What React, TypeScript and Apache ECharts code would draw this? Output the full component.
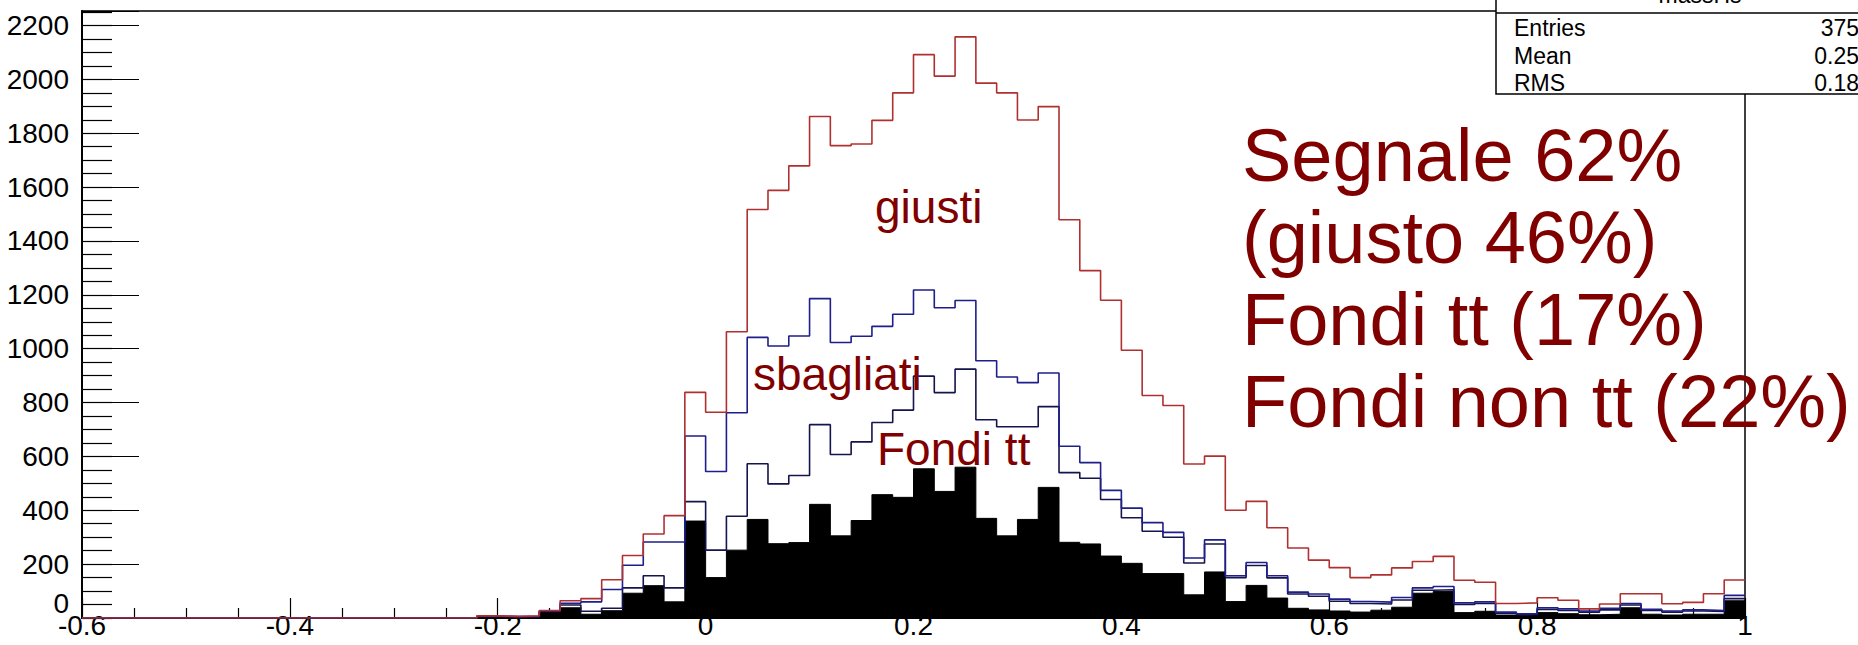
import React, { useEffect, useRef } from "react";
import * as echarts from "echarts";

// Histogram binning: 80 bins of 0.02 between -0.6 and 1.0; bins below -0.22 are empty.
const X_MIN = -0.6;
const X_MAX = 1.0;
const BIN_WIDTH = 0.02;
const FIRST_FILLED_BIN = -0.22;

// Per-bin counts of each component (from -0.22 up to 0.98), stacked bottom to top.
const fondiNonTt = [5, 3, 4, 22, 38, 14, 27, 92, 120, 60, 360, 150, 252, 366, 276, 280, 422, 305, 362, 458, 448, 554, 470, 560, 370, 305, 366, 485, 281, 275, 230, 203, 165, 165, 86, 171, 61, 121, 74, 36, 30, 26, 22, 29, 40, 92, 98, 20, 25, 11, 9, 20, 16, 12, 14, 38, 14, 11, 14, 14, 64];
const fondiTt = [1, 1, 1, 2, 10, 11, 9, 20, 37, 52, 72, 102, 126, 207, 222, 249, 296, 302, 292, 268, 324, 344, 367, 364, 366, 405, 344, 300, 259, 244, 210, 169, 157, 135, 118, 104, 89, 74, 75, 53, 51, 36, 32, 23, 27, 11, 7, 30, 29, 7, 4, 12, 12, 10, 16, 10, 14, 11, 12, 10, 8];
const sbagliati = [1, 1, 1, 2, 7, 35, 70, 84, 125, 170, 244, 292, 384, 469, 512, 518, 468, 416, 392, 357, 356, 320, 315, 255, 219, 185, 164, 125, 98, 58, 34, 36, 32, 18, 19, 15, 7, 11, 8, 7, 8, 8, 7, 7, 9, 9, 12, 6, 6, 4, 3, 6, 6, 4, 6, 6, 4, 4, 4, 4, 12];
const giusti = [1, 1, 2, 2, 9, 12, 36, 36, 30, 98, 162, 220, 301, 475, 578, 632, 676, 731, 714, 765, 822, 874, 860, 979, 1031, 1055, 975, 989, 841, 713, 706, 586, 472, 471, 349, 311, 243, 227, 178, 164, 126, 117, 89, 101, 110, 98, 112, 84, 73, 32, 40, 37, 32, 8, 16, 36, 58, 27, 28, 62, 57];

const Y_MAX = 2254;
const Y_MAJOR = 200;
const Y_MINOR = 50;
const X_MAJOR = 0.2;

const summaryLines = ["Segnale 62%", "(giusto 46%)", "Fondi tt (17%)", "Fondi non tt (22%)"];
const statsTitle = "massHs";
const statsNames = ["Entries", "Mean", "RMS"];
const statsValues = ["375", "0.25", "0.18"];

const FONT = "'Liberation Sans', Arial, Helvetica, sans-serif";
const LABEL_RED = "#800000";

const nBins = Math.round((X_MAX - X_MIN) / BIN_WIDTH);
const firstIndex = Math.round((FIRST_FILLED_BIN - X_MIN) / BIN_WIDTH);

function fullBins(values: number[]): number[] {
  const out = new Array(nBins).fill(0);
  values.forEach((v, i) => {
    out[firstIndex + i] = v;
  });
  return out;
}

function addBins(a: number[], b: number[]): number[] {
  return a.map((v, i) => v + b[i]);
}

// Step outline points: one point per left bin edge plus the closing right edge.
function stepPoints(levels: number[]): [number, number][] {
  const pts: [number, number][] = levels.map((v, i) => [
    Number((X_MIN + i * BIN_WIDTH).toFixed(4)),
    v,
  ]);
  pts.push([X_MAX, levels[levels.length - 1]]);
  return pts;
}

const levelNonTt = fullBins(fondiNonTt);
const levelTt = addBins(levelNonTt, fullBins(fondiTt));
const levelSbagliati = addBins(levelTt, fullBins(sbagliati));
const levelGiusti = addBins(levelSbagliati, fullBins(giusti));

function buildOption(): echarts.EChartsOption {
  const tickStyle = { color: "#000", width: 1.2 };
  const graphics: any[] = [];

  // in-plot component labels
  const inner = [
    { text: "giusti", x: 875, y: 207 },
    { text: "sbagliati", x: 753, y: 374 },
    { text: "Fondi tt", x: 877, y: 449 },
  ];
  inner.forEach((t) =>
    graphics.push({
      type: "text",
      x: t.x,
      y: t.y,
      z: 50,
      style: {
        text: t.text,
        fill: LABEL_RED,
        font: `46px ${FONT}`,
        verticalAlign: "middle",
        align: "left",
      },
    })
  );

  // composition summary
  summaryLines.forEach((line, i) =>
    graphics.push({
      type: "text",
      x: 1242,
      y: 155 + i * 82.3,
      z: 50,
      style: {
        text: line,
        fill: LABEL_RED,
        font: `74px ${FONT}`,
        verticalAlign: "middle",
        align: "left",
      },
    })
  );

  // statistics box
  graphics.push({
    type: "rect",
    z: 60,
    shape: { x: 1496, y: -20, width: 420, height: 114 },
    style: { fill: "#fff", stroke: "#000", lineWidth: 1.5 },
  });
  graphics.push({
    type: "line",
    z: 61,
    shape: { x1: 1496, y1: 13, x2: 1900, y2: 13 },
    style: { stroke: "#000", lineWidth: 1.5 },
  });
  graphics.push({
    type: "text",
    x: 1700,
    y: -5,
    z: 61,
    style: {
      text: statsTitle,
      fill: "#000",
      font: `23px ${FONT}`,
      align: "center",
      verticalAlign: "middle",
    },
  });
  statsNames.forEach((name, i) => {
    graphics.push({
      type: "text",
      x: 1514,
      y: 28 + i * 27.5,
      z: 61,
      style: { text: name, fill: "#000", font: `23px ${FONT}`, align: "left", verticalAlign: "middle" },
    });
    graphics.push({
      type: "text",
      x: 1859,
      y: 28 + i * 27.5,
      z: 61,
      style: { text: statsValues[i], fill: "#000", font: `23px ${FONT}`, align: "right", verticalAlign: "middle" },
    });
  });

  const lineSeries = (name: string, levels: number[], color: string) => ({
    name,
    type: "line" as const,
    step: "end" as const,
    data: stepPoints(levels),
    symbol: "none",
    z: 3,
    lineStyle: { color, width: 1.6 },
  });

  return {
    animation: false,
    backgroundColor: "#fff",
    textStyle: { fontFamily: FONT },
    grid: {
      left: 82,
      right: 113,
      top: 11,
      bottom: 27,
      show: true,
      borderColor: "#000",
      borderWidth: 1.5,
      backgroundColor: "transparent",
    },
    xAxis: {
      type: "value",
      min: X_MIN,
      max: X_MAX,
      interval: X_MAJOR,
      axisLine: { show: true, onZero: false, lineStyle: { color: "#000", width: 2 } },
      axisTick: { show: true, inside: true, length: 20, lineStyle: tickStyle },
      minorTick: { show: true, splitNumber: 4, length: 10, lineStyle: tickStyle },
      splitLine: { show: false },
      minorSplitLine: { show: false },
      axisLabel: {
        show: true,
        showMinLabel: true,
        showMaxLabel: true,
        margin: -7,
        fontSize: 28,
        fontFamily: FONT,
        color: "#000",
        formatter: (v: number) => String(Math.round(v * 10) / 10),
      },
    },
    yAxis: [
      {
        type: "value",
        min: 0,
        max: Y_MAX,
        interval: Y_MAJOR,
        position: "left",
        axisLine: { show: true, onZero: false, lineStyle: { color: "#000", width: 2 } },
        axisTick: { show: true, inside: true, length: 57, lineStyle: tickStyle },
        splitLine: { show: false },
        axisLabel: {
          show: true,
          margin: 13,
          fontSize: 28,
          fontFamily: FONT,
          color: "#000",
          formatter: (v: number) =>
            v === 0 ? "{zero|0}" : v % Y_MAJOR === 0 ? String(v) : "",
          rich: {
            zero: { fontSize: 28, fontFamily: FONT, color: "#000", padding: [0, 0, 30, 0] },
          },
        },
      },
      {
        type: "value",
        min: 0,
        max: Y_MAX,
        interval: Y_MINOR,
        position: "left",
        offset: 0,
        axisLine: { show: false, onZero: false },
        axisTick: { show: true, inside: true, length: 30, lineStyle: tickStyle },
        axisLabel: { show: false },
        splitLine: { show: false },
      },
    ],
    series: [
      {
        name: "Fondi non tt",
        type: "line",
        step: "end",
        data: stepPoints(levelNonTt),
        symbol: "none",
        z: 2,
        lineStyle: { color: "#000", width: 1 },
        areaStyle: { color: "#000", opacity: 1 },
      },
      lineSeries("Fondi tt", levelTt, "#14144e"),
      lineSeries("sbagliati", levelSbagliati, "#1e1e8c"),
      lineSeries("giusti", levelGiusti, "#b03030"),
    ],
    graphic: graphics,
  };
}

export default function App() {
  const ref = useRef<HTMLDivElement>(null);
  useEffect(() => {
    if (!ref.current) return;
    const chart = echarts.init(ref.current, undefined, { renderer: "svg" });
    chart.setOption(buildOption());
    return () => {
      chart.dispose();
    };
  }, []);
  return (
    <div
      ref={ref}
      style={{ position: "absolute", left: 0, top: 0, width: 1858, height: 645, background: "#fff" }}
    />
  );
}
